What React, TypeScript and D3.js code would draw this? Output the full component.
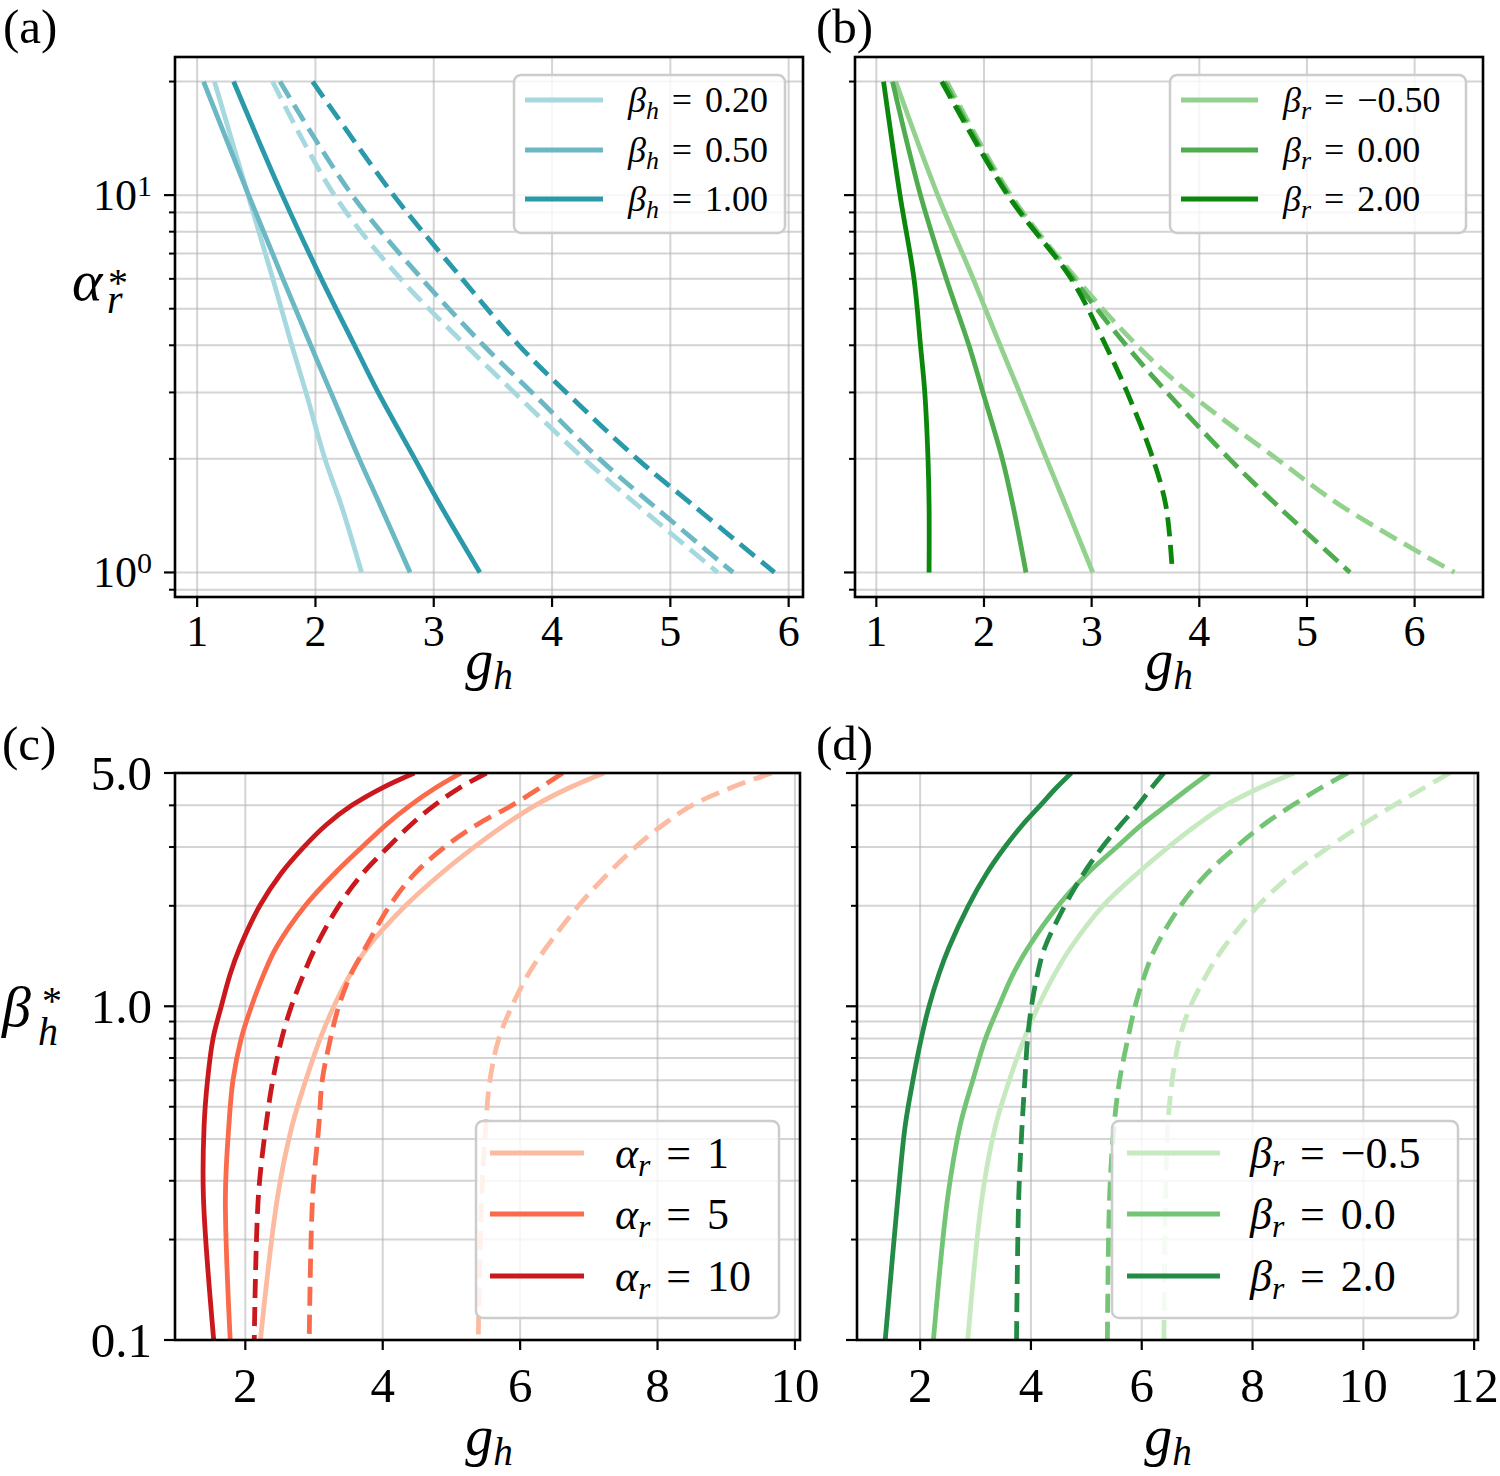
import React, { useEffect } from 'react';
import * as d3 from 'd3';

const FONT = "'Liberation Serif', 'Times New Roman', serif";

// ---------------- Data ----------------
// Panels (a), (b): y axis = alpha_r^*
const ALPHA_NODES = [1, 1.5, 2, 3, 4, 6, 10, 20];

const A_LABELS = ['0.20', '0.50', '1.00'];
const A_COLORS = ['#a6d8df', '#6bb8c4', '#2a99aa'];
const A_SOLID = [
  [2.39, 2.22, 2.08, 1.92, 1.8, 1.64, 1.43, 1.146],
  [2.8, 2.55, 2.37, 2.13, 1.96, 1.725, 1.435, 1.054],
  [3.39, 3.06, 2.84, 2.53, 2.33, 2.05, 1.72, 1.308],
];
const A_DASHED = [
  [5.4, 4.73, 4.27, 3.68, 3.27, 2.72, 2.16, 1.637],
  [5.53, 4.86, 4.4, 3.83, 3.42, 2.9, 2.31, 1.7],
  [5.88, 5.2, 4.72, 4.12, 3.72, 3.24, 2.66, 1.976],
];

const B_LABELS = ['\u22120.50', '0.00', '2.00'];
const B_COLORS = ['#93d28e', '#4fac4f', '#0b880b'];
const B_SOLID = [
  [3.01, 2.76, 2.58, 2.33, 2.15, 1.9, 1.57, 1.18],
  [2.39, 2.27, 2.17, 1.99, 1.86, 1.65, 1.41, 1.15],
  [1.49, 1.49, 1.48, 1.45, 1.41, 1.35, 1.22, 1.067],
];
const B_DASHED = [
  [6.37, 5.32, 4.72, 3.9, 3.42, 2.86, 2.25, 1.655],
  [5.4, 4.73, 4.28, 3.7, 3.32, 2.83, 2.23, 1.63],
  [3.75, 3.69, 3.57, 3.33, 3.13, 2.81, 2.22, 1.607],
];

// Panels (c), (d): y axis = beta_h^*
const BETA_NODES = [0.1, 0.269, 0.438, 0.6, 0.8, 1.0, 1.25, 1.5, 2.0, 2.5, 3.0, 3.5, 4.0, 4.5, 5.0];

const C_LABELS = ['1', '5', '10'];
const C_COLORS = ['#fcbba1', '#fb6a4a', '#cb181d'];
const C_SOLID = [
  [2.22, 2.47, 2.68, 2.88, 3.09, 3.29, 3.53, 3.78, 4.33, 4.85, 5.33, 5.78, 6.22, 6.7, 7.22],
  [1.78, 1.71, 1.76, 1.82, 1.94, 2.09, 2.27, 2.45, 2.87, 3.3, 3.7, 4.05, 4.4, 4.76, 5.14],
  [1.54, 1.39, 1.4, 1.45, 1.53, 1.65, 1.78, 1.92, 2.21, 2.52, 2.85, 3.18, 3.55, 3.98, 4.46],
];
const C_DASHED = [
  [5.39, 5.44, 5.5, 5.56, 5.69, 5.88, 6.12, 6.38, 6.85, 7.28, 7.68, 8.08, 8.5, 9.05, 9.66],
  [2.93, 2.98, 3.07, 3.12, 3.24, 3.36, 3.54, 3.75, 4.1, 4.47, 4.9, 5.37, 5.88, 6.28, 6.62],
  [2.13, 2.19, 2.3, 2.4, 2.53, 2.67, 2.85, 3.02, 3.36, 3.71, 4.08, 4.41, 4.75, 5.11, 5.51],
];

const D_LABELS = ['\u22120.5', '0.0', '2.0'];
const D_COLORS = ['#c7e9c0', '#74c476', '#238b45'];
const D_SOLID = [
  [2.86, 3.12, 3.36, 3.61, 3.88, 4.13, 4.43, 4.72, 5.3, 5.92, 6.48, 7.0, 7.51, 8.11, 8.75],
  [2.24, 2.5, 2.72, 2.95, 3.18, 3.42, 3.68, 3.95, 4.49, 5.02, 5.55, 6.0, 6.45, 6.85, 7.22],
  [1.37, 1.6, 1.73, 1.87, 2.02, 2.16, 2.34, 2.52, 2.87, 3.2, 3.53, 3.85, 4.17, 4.45, 4.73],
];
const D_DASHED = [
  [6.4, 6.43, 6.47, 6.55, 6.68, 6.88, 7.18, 7.48, 8.1, 8.73, 9.38, 9.98, 10.55, 11.08, 11.56],
  [5.38, 5.42, 5.5, 5.6, 5.75, 5.88, 6.06, 6.25, 6.7, 7.18, 7.7, 8.2, 8.72, 9.22, 9.72],
  [3.74, 3.78, 3.84, 3.89, 3.94, 4.01, 4.12, 4.25, 4.61, 4.95, 5.29, 5.62, 5.93, 6.17, 6.4],
];

// Ticks
const AB_X_TICKS = [1, 2, 3, 4, 5, 6];
const AB_Y_MAJOR = [1, 10];
const AB_Y_MINOR = [0.9, 2, 3, 4, 5, 6, 7, 8, 9, 20];
const C_X_TICKS = [2, 4, 6, 8, 10];
const D_X_TICKS = [2, 4, 6, 8, 10, 12];
const CD_Y_MAJOR = [0.1, 1.0, 5.0];
const CD_Y_MINOR = [0.2, 0.3, 0.4, 0.5, 0.6, 0.7, 0.8, 0.9, 2, 3, 4];

// ---------------- Helpers ----------------
type Box = { l: number; r: number; t: number; b: number };

function padExtent(vals: number[]): [number, number] {
  const [mn, mx] = d3.extent(vals) as [number, number];
  const p = (mx - mn) * 0.05;
  return [mn - p, mx + p];
}
function padLogExtent(vals: number[]): [number, number] {
  const lo = Math.log10(d3.min(vals) as number);
  const hi = Math.log10(d3.max(vals) as number);
  const p = (hi - lo) * 0.05;
  return [Math.pow(10, lo - p), Math.pow(10, hi + p)];
}

function EqLabel(props: { x: number; y: number; fs: number; sym: string; sub: string; val: string }) {
  const { x, y, fs, sym, sub, val } = props;
  return (
    <text x={x} y={y} fontSize={fs} fill="#000">
      <tspan fontStyle="italic">{sym}</tspan>
      <tspan fontStyle="italic" fontSize={fs * 0.72} dy={fs * 0.2}>{sub}</tspan>
      <tspan dy={-fs * 0.2} dx={fs * 0.36}>=</tspan>
      <tspan dx={fs * 0.36}>{val}</tspan>
    </text>
  );
}

interface LegendProps {
  box: Box;
  rows: number[];
  lineX: [number, number];
  textX: number;
  fs: number;
  colors: string[];
  sym: string;
  sub: string;
  labels: string[];
  lw: number;
}
function Legend(p: LegendProps) {
  return (
    <g>
      <rect x={p.box.l} y={p.box.t} width={p.box.r - p.box.l} height={p.box.b - p.box.t} rx={7} ry={7}
        fill="#fff" fillOpacity={0.8} stroke="#cccccc" strokeWidth={2.5} />
      {p.rows.map((ry, i) => (
        <g key={i}>
          <line x1={p.lineX[0]} x2={p.lineX[1]} y1={ry} y2={ry} stroke={p.colors[i]} strokeWidth={p.lw} />
          <EqLabel x={p.textX} y={ry + p.fs * 0.33} fs={p.fs} sym={p.sym} sub={p.sub} val={p.labels[i]} />
        </g>
      ))}
    </g>
  );
}

interface PanelProps {
  id: string;
  box: Box;
  nodes: number[];
  solid: number[][];
  dashed: number[][];
  colors: string[];
  padY: boolean;
  xTicks: number[];
  yMajor: number[];
  yMinor: number[];
  xTickFs: number;
  xTickBaseline: number;
  yTickLabel?: (v: number, x: number, y: number) => React.ReactNode;
  lw: number;
  dash: string;
  legend: LegendProps;
}

function Panel(p: PanelProps) {
  const all = [...p.solid.flat(), ...p.dashed.flat()];
  const x = d3.scaleLinear().domain(padExtent(all)).range([p.box.l, p.box.r]);
  const yDom = p.padY ? padLogExtent(p.nodes) : (d3.extent(p.nodes) as [number, number]);
  const y = d3.scaleLog().domain(yDom).range([p.box.b, p.box.t]);
  const line = d3
    .line<[number, number]>()
    .x((d) => x(d[0]))
    .y((d) => y(d[1]))
    .curve(d3.curveCatmullRom.alpha(0.5));
  const pts = (vals: number[]) => vals.map((v, i) => [v, p.nodes[i]] as [number, number]).reverse();
  const yTicksAll = [...p.yMajor, ...p.yMinor];
  const clipId = 'clip-' + p.id;
  return (
    <g>
      <defs>
        <clipPath id={clipId}>
          <rect x={p.box.l} y={p.box.t} width={p.box.r - p.box.l} height={p.box.b - p.box.t} />
        </clipPath>
      </defs>
      <g stroke="#b0b0b0" strokeOpacity={0.55} strokeWidth={2}>
        {p.xTicks.map((t) => (
          <line key={'gx' + t} x1={x(t)} x2={x(t)} y1={p.box.t} y2={p.box.b} />
        ))}
        {yTicksAll.map((t) => (
          <line key={'gy' + t} x1={p.box.l} x2={p.box.r} y1={y(t)} y2={y(t)} />
        ))}
      </g>
      <g clipPath={`url(#${clipId})`} fill="none" strokeLinejoin="round">
        {p.colors.map((c, i) => (
          <g key={i}>
            <path d={line(pts(p.solid[i])) || ''} stroke={c} strokeWidth={p.lw} />
            <path d={line(pts(p.dashed[i])) || ''} stroke={c} strokeWidth={p.lw} strokeDasharray={p.dash} />
          </g>
        ))}
      </g>
      <Legend {...p.legend} />
      <rect x={p.box.l} y={p.box.t} width={p.box.r - p.box.l} height={p.box.b - p.box.t}
        fill="none" stroke="#000" strokeWidth={2.6} />
      {p.xTicks.map((t) => (
        <g key={'xt' + t}>
          <line x1={x(t)} x2={x(t)} y1={p.box.b} y2={p.box.b + 10} stroke="#000" strokeWidth={2.2} />
          <text x={x(t)} y={p.xTickBaseline} fontSize={p.xTickFs} textAnchor="middle">{t}</text>
        </g>
      ))}
      {p.yMajor.map((t) => (
        <g key={'ym' + t}>
          <line x1={p.box.l - 11} x2={p.box.l} y1={y(t)} y2={y(t)} stroke="#000" strokeWidth={2.2} />
          {p.yTickLabel ? p.yTickLabel(t, p.box.l - 25, y(t)) : null}
        </g>
      ))}
      {p.yMinor.map((t) => (
        <line key={'yn' + t} x1={p.box.l - 6} x2={p.box.l} y1={y(t)} y2={y(t)} stroke="#000" strokeWidth={2} />
      ))}
    </g>
  );
}

function GhLabel(props: { x: number; y: number; fs: number }) {
  const { x, y, fs } = props;
  return (
    <text x={x} y={y} fontSize={fs} textAnchor="middle" fontStyle="italic">
      <tspan>g</tspan>
      <tspan fontSize={fs * 0.7} dy={fs * 0.18}>h</tspan>
    </text>
  );
}

export default function App() {
  useEffect(() => {
    document.body.style.margin = '0';
  }, []);

  const boxA = { l: 175, r: 803, t: 57, b: 597 };
  const boxB = { l: 855, r: 1483, t: 57, b: 597 };
  const boxC = { l: 175, r: 800, t: 773, b: 1340 };
  const boxD = { l: 857, r: 1478, t: 773, b: 1340 };

  const powLabel = (v: number, x: number, yy: number) => (
    <text x={x + 2} y={yy + 15} fontSize={44} textAnchor="end">
      <tspan>10</tspan>
      <tspan fontSize={30} dy={-14}>{Math.round(Math.log10(v))}</tspan>
    </text>
  );
  const decLabel = (v: number, x: number, yy: number) => (
    <text x={x + 2} y={yy + 17} fontSize={49} textAnchor="end">{v.toFixed(1)}</text>
  );

  return (
    <svg width={1500} height={1476} style={{ display: 'block', background: '#fff' }} fontFamily={FONT}>
      <rect x={0} y={0} width={1500} height={1476} fill="#fff" />
      <text x={3} y={43} fontSize={49}>(a)</text>
      <text x={816} y={43} fontSize={49}>(b)</text>
      <text x={2} y={760} fontSize={49}>(c)</text>
      <text x={816} y={760} fontSize={49}>(d)</text>

      <Panel
        id="a" box={boxA} nodes={ALPHA_NODES} solid={A_SOLID} dashed={A_DASHED} colors={A_COLORS}
        padY={true} xTicks={AB_X_TICKS} yMajor={AB_Y_MAJOR} yMinor={AB_Y_MINOR}
        xTickFs={44} xTickBaseline={646} yTickLabel={powLabel} lw={4.8} dash="19 8.5"
        legend={{
          box: { l: 514, r: 785, t: 75, b: 233 }, rows: [100, 150, 199], lineX: [525, 603], textX: 628,
          fs: 36, colors: A_COLORS, sym: '\u03b2', sub: 'h', labels: A_LABELS, lw: 4.8,
        }}
      />
      <Panel
        id="b" box={boxB} nodes={ALPHA_NODES} solid={B_SOLID} dashed={B_DASHED} colors={B_COLORS}
        padY={true} xTicks={AB_X_TICKS} yMajor={AB_Y_MAJOR} yMinor={AB_Y_MINOR}
        xTickFs={44} xTickBaseline={646} lw={4.8} dash="19 8.5"
        legend={{
          box: { l: 1170, r: 1466, t: 75, b: 233 }, rows: [100, 150, 199], lineX: [1181, 1258], textX: 1283,
          fs: 36, colors: B_COLORS, sym: '\u03b2', sub: 'r', labels: B_LABELS, lw: 4.8,
        }}
      />
      <Panel
        id="c" box={boxC} nodes={BETA_NODES} solid={C_SOLID} dashed={C_DASHED} colors={C_COLORS}
        padY={false} xTicks={C_X_TICKS} yMajor={CD_Y_MAJOR} yMinor={CD_Y_MINOR}
        xTickFs={49} xTickBaseline={1402} yTickLabel={decLabel} lw={4.8} dash="19 9"
        legend={{
          box: { l: 476, r: 779, t: 1121, b: 1318 }, rows: [1153, 1214, 1276], lineX: [490, 584], textX: 615,
          fs: 44, colors: C_COLORS, sym: '\u03b1', sub: 'r', labels: C_LABELS, lw: 4.8,
        }}
      />
      <Panel
        id="d" box={boxD} nodes={BETA_NODES} solid={D_SOLID} dashed={D_DASHED} colors={D_COLORS}
        padY={false} xTicks={D_X_TICKS} yMajor={CD_Y_MAJOR} yMinor={CD_Y_MINOR}
        xTickFs={49} xTickBaseline={1402} lw={4.8} dash="19 9"
        legend={{
          box: { l: 1112, r: 1458, t: 1121, b: 1318 }, rows: [1153, 1214, 1276], lineX: [1127, 1220], textX: 1250,
          fs: 44, colors: D_COLORS, sym: '\u03b2', sub: 'r', labels: D_LABELS, lw: 4.8,
        }}
      />

      <GhLabel x={489} y={679} fs={56} />
      <GhLabel x={1169} y={679} fs={56} />
      <GhLabel x={489} y={1455} fs={56} />
      <GhLabel x={1168} y={1455} fs={56} />

      <text x={72} y={300} fontSize={58} fontStyle="italic">
        <tspan>{'\u03b1'}</tspan>
        <tspan x={108} y={296} fontSize={40} fontStyle="normal">*</tspan>
        <tspan x={107} y={313} fontSize={40}>r</tspan>
      </text>

      <text x={2} y={1026} fontSize={58} fontStyle="italic">
        <tspan>{'\u03b2'}</tspan>
        <tspan x={42} y={1014} fontSize={40} fontStyle="normal">*</tspan>
        <tspan x={38} y={1045} fontSize={40}>h</tspan>
      </text>
    </svg>
  );
}
